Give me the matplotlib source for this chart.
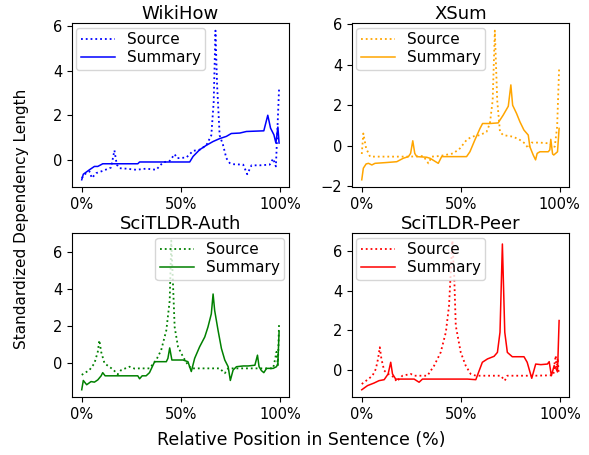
import matplotlib
matplotlib.use("Agg")
import matplotlib.pyplot as plt
from matplotlib.ticker import PercentFormatter

# WikiHow
wiki_src_x = [0, 2.2, 3.9, 5.1, 7.3, 10.6, 14.8, 16.5, 17.7, 19.1, 22.4, 27.5, 32.5, 37.6, 41.0,
              44.4, 46.9, 48.1, 52.8, 56.2, 59.5, 62.9, 65.4, 66.6, 67.5, 68.3, 69.6, 71.3, 73.0,
              74.7, 76.4, 81.5, 83.5, 85.7, 89.9, 94.9, 96.6, 98.0, 99.6]
wiki_src_y = [-0.82, -0.6, -0.52, -0.82, -0.6, -0.5, -0.35, 0.42, -0.22, -0.38, -0.4, -0.45, -0.4,
              -0.45, -0.12, -0.05, 0.25, 0.07, 0.1, 0.4, 0.45, 0.65, 1.1, 2.6, 5.8, 3.4, 1.1, 0.67,
              0.07, -0.15, -0.2, -0.22, -0.65, -0.25, -0.25, -0.22, 0.05, -0.3, 3.2]
wiki_sum_x = [0, 0.8, 3.9, 6.4, 8.1, 9.8, 10.6, 28.3, 29.2, 54.5, 56.2, 59.5, 62.9, 66.3, 69.6,
              73.0, 75.5, 79.8, 83.1, 91.9, 93.9, 95.3, 97.0, 98.0, 99.0, 99.6]
wiki_sum_y = [-0.9, -0.65, -0.45, -0.3, -0.3, -0.22, -0.18, -0.18, -0.1, -0.1, 0.15, 0.45, 0.65,
              0.82, 0.95, 1.05, 1.18, 1.2, 1.27, 1.3, 2.0, 1.42, 1.12, 0.75, 1.47, 0.75]

# XSum
xsum_src_x = [0, 0.8, 2.2, 4.2, 10.9, 24.4, 31.1, 33.7, 35.4, 39.6, 46.3, 49.7, 53.0, 55.6, 59.8,
              63.1, 64.8, 66.2, 67.3, 68.5, 69.9, 71.5, 76.6, 80.0, 82.5, 84.2, 85.9, 90.1, 95.1,
              96.5, 97.6, 98.8, 99.8]
xsum_src_y = [-0.4, 0.61, -0.12, -0.53, -0.53, -0.53, -0.5, -0.86, -0.53, -0.5, -0.37, -0.12,
              0.29, 0.45, 0.53, 0.69, 1.1, 2.24, 5.67, 2.24, 0.69, 0.53, 0.45, 0.29, 0.12, -0.12,
              0.16, 0.16, 0.12, -0.04, -0.04, 0.94, 3.8]
xsum_sum_x = [0, 0.8, 2.2, 3.4, 5.1, 6.7, 12.6, 17.7, 21.0, 23.6, 24.7, 25.8, 26.8, 27.8, 32.8,
              34.5, 38.7, 40.4, 48.0, 53.0, 54.7, 57.2, 59.8, 61.1, 64.8, 69.0, 69.9, 71.5, 74.1,
              75.4, 76.3, 78.3, 80.0, 82.0, 84.2, 85.0, 86.7, 87.9, 88.7, 90.1, 94.3, 95.1, 95.6,
              96.5, 97.1, 99.0, 99.8]
xsum_sum_y = [-1.67, -1.1, -0.89, -0.86, -0.94, -0.86, -0.82, -0.78, -0.61, -0.53, -0.37, 0.25,
              -0.37, -0.53, -0.56, -0.61, -0.86, -0.53, -0.53, -0.53, -0.29, 0.29, 0.86, 1.1, 1.1,
              1.13, 1.27, 1.51, 1.95, 3.0, 2.0, 1.59, 1.18, 0.78, 0.53, -0.04, -0.45, -0.69, -0.37,
              -0.29, -0.29, -0.2, 0.32, -0.4, -0.45, -0.29, 0.86]

# SciTLDR-Auth
auth_src_x = [0, 3.9, 6.4, 8.1, 8.9, 9.8, 11.5, 15.7, 18.2, 19.9, 24.1, 26.6, 29.2, 34.2, 37.6,
              40.1, 42.7, 44.4, 45.2, 46.0, 46.9, 48.6, 51.1, 53.6, 55.3, 69.6, 72.2, 73.9, 96.6,
              97.5, 98.3, 99.0, 99.6]
auth_src_y = [-0.62, -0.36, 0, 0.62, 1.24, 0.62, 0, -0.32, -0.59, -0.36, -0.18, -0.28, -0.27,
              -0.27, 0.18, 0.71, 1.78, 3.37, 6.6, 4.44, 1.95, 0.89, 0.36, -0.09, -0.27, -0.27,
              -0.53, -0.27, -0.27, 0.18, 0.62, -0.1, 2.17]
auth_sum_x = [0, 0.8, 2.5, 4.7, 6.4, 8.1, 9.8, 10.6, 11.8, 28.3, 29.2, 30.5, 32.5, 34.2, 36.8,
              42.7, 43.5, 44.4, 45.5, 51.1, 53.6, 55.3, 57.0, 59.5, 62.1, 63.7, 65.4, 66.3, 67.1,
              68.8, 70.5, 72.2, 73.9, 75.0, 76.4, 78.1, 81.5, 84.0, 87.4, 88.7, 89.5, 90.7, 91.9,
              93.3, 96.6, 98.3, 99.0, 99.6]
auth_sum_y = [-1.42, -0.92, -1.15, -0.98, -1.01, -0.89, -0.67, -0.5, -0.67, -0.67, -0.83, -0.67,
              -0.67, -0.5, 0.09, 0.09, 0.27, 0.83, 0.18, 0.18, 0.09, -0.44, 0.27, 0.89, 1.42, 1.95,
              2.66, 3.73, 2.84, 1.78, 0.8, 0.18, -0.18, -0.92, -0.36, -0.18, -0.14, -0.14, -0.1,
              0.44, -0.18, -0.39, -0.5, -0.27, -0.27, -0.18, 0.0, 1.69]

# SciTLDR-Peer
peer_src_x = [0, 2.9, 5.4, 7.1, 8.2, 9.1, 9.9, 11.3, 13.3, 16.3, 17.6, 18.8, 20.5, 24.7, 26.4,
              33.1, 36.5, 39.8, 42.4, 44.0, 45.2, 45.7, 46.6, 47.4, 49.9, 52.4, 54.9, 57.5, 70.1,
              72.1, 73.4, 86.9, 95.3, 96.6, 97.3, 97.8, 98.3, 98.8, 99.3]
peer_src_y = [-0.71, -0.49, -0.29, 0.05, 0.56, 1.15, 0.56, -0.03, -0.2, -0.37, -0.59, -0.46,
              -0.29, -0.2, -0.29, -0.29, 0.22, 0.89, 1.91, 3.25, 5.6, 6.54, 4.77, 2.24, 0.89, 0.22,
              -0.2, -0.29, -0.29, -0.54, -0.29, -0.29, -0.27, -0.25, 0.4, 0.73, 0.1, 0.6, -0.2]
peer_sum_x = [0, 2.9, 6.2, 8.7, 11.3, 13.3, 14.6, 15.5, 17.1, 26.4, 28.9, 30.6, 53.3, 57.5, 60.8,
              63.4, 66.7, 68.4, 69.7, 70.9, 72.1, 73.4, 75.9, 81.8, 83.4, 85.7, 87.7, 90.3, 93.6,
              94.5, 95.6, 97.0, 97.8, 98.7, 99.5]
peer_sum_y = [-1.0, -0.79, -0.66, -0.54, -0.49, -0.2, 0.39, -0.2, -0.46, -0.46, -0.62, -0.46,
              -0.46, -0.49, 0.39, 0.56, 0.69, 0.89, 1.91, 6.37, 1.91, 0.89, 0.67, 0.67, 0.39,
              -0.42, 0.3, 0.27, 0.3, 0.42, -0.29, 0.22, 0.1, -0.1, 2.5]

panels = [
    ("WikiHow", "blue", wiki_src_x, wiki_src_y, wiki_sum_x, wiki_sum_y, "upper left"),
    ("XSum", "orange", xsum_src_x, xsum_src_y, xsum_sum_x, xsum_sum_y, "upper left"),
    ("SciTLDR-Auth", "green", auth_src_x, auth_src_y, auth_sum_x, auth_sum_y, "upper right"),
    ("SciTLDR-Peer", "red", peer_src_x, peer_src_y, peer_sum_x, peer_sum_y, "upper left"),
]

fig, axes = plt.subplots(2, 2, figsize=(5.89, 4.55), dpi=100)
fig.subplots_adjust(left=0.122, right=0.966, top=0.949, bottom=0.127, wspace=0.29, hspace=0.28)

for ax, (title, color, sx, sy, mx, my, loc) in zip(axes.flat, panels):
    ax.plot(sx, sy, ':', color=color, lw=1.3, label='Source')
    ax.plot(mx, my, '-', color=color, lw=1.1, label='Summary')
    ax.set_title(title, fontsize=13, pad=3)
    ax.set_xticks([0, 50, 100])
    ax.xaxis.set_major_formatter(PercentFormatter(100, decimals=0))
    ax.tick_params(labelsize=10.5)
    ax.legend(loc=loc, fontsize=11, borderaxespad=0.3, borderpad=0.3, handlelength=2.2,
              labelspacing=0.2)

fig.text(0.037, 0.52, 'Standardized Dependency Length', rotation=90, ha='center', va='center',
         fontsize=11)
fig.text(0.511, 0.033, 'Relative Position in Sentence (%)', ha='center', va='center',
         fontsize=12.5)

fig.savefig('out.png', dpi=100)
